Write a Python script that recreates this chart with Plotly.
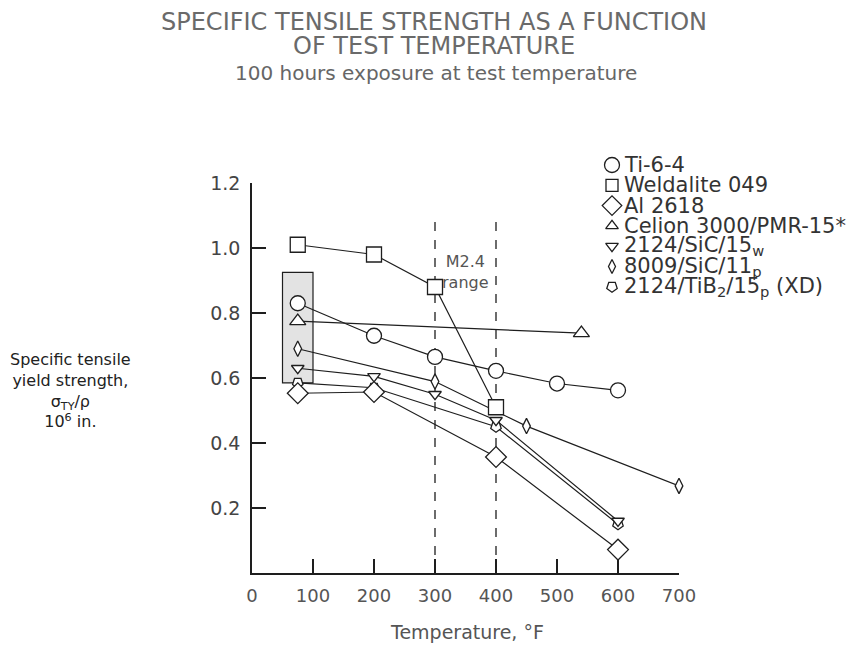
import plotly.graph_objects as go

# ---------------- data ----------------
ti_T = [75, 200, 300, 400, 500, 600]
ti_v = [0.83, 0.73, 0.665, 0.622, 0.583, 0.562]

wel_T = [75, 200, 300, 400]
wel_v = [1.01, 0.98, 0.88, 0.51]

al_T = [75, 200, 400, 600]
al_v = [0.553, 0.557, 0.357, 0.072]

cel_T = [75, 540]
cel_v = [0.775, 0.738]

sicw_T = [75, 200, 300, 400, 600]
sicw_v = [0.63, 0.605, 0.55, 0.47, 0.16]

sic8_T = [75, 300, 450, 700]
sic8_v = [0.69, 0.589, 0.452, 0.268]

tib_T = [75, 200, 400, 600]
tib_v = [0.585, 0.57, 0.45, 0.15]

# room-temperature scatter band and the M2.4 temperature range
room_T = [50, 100]
room_v = [0.585, 0.925]
m24_T = [300, 400]
m24_top = 1.08

x_ticks = [0, 100, 200, 300, 400, 500, 600, 700]
y_ticks = [0.2, 0.4, 0.6, 0.8, 1.0, 1.2]
y_ticktext = ["0.2", "0.4", "0.6", "0.8", "1.0", "1.2"]

names = ["Ti-6-4", "Weldalite 049", "Al 2618", "Celion 3000/PMR-15*",
         "2124/SiC/15<sub>w</sub>", "8009/SiC/11<sub>p</sub>",
         "2124/TiB<sub>2</sub>/15<sub>p</sub> (XD)"]

title_1 = "SPECIFIC TENSILE STRENGTH AS A FUNCTION"
title_2 = "OF TEST TEMPERATURE"
subtitle = "100 hours exposure at test temperature"
x_title = "Temperature, °F"
y_title = "Specific tensile<br>yield strength,<br>σ<sub>TY</sub>/ρ<br>10<sup>6</sup> in."
m24_label = "M2.4<br>range"

FONT = "DejaVu Sans"
INK = "#1e1e1e"
W, H = 866, 647
PLOT_L, PLOT_R, PLOT_T, PLOT_B = 252, 679, 183, 573

series = [
    (tib_T, tib_v, dict(symbol="pentagon", angle=180, size=11)),
    (sic8_T, sic8_v, dict(symbol="diamond-tall", size=11)),
    (sicw_T, sicw_v, dict(symbol="triangle-down", size=11)),
    (cel_T, cel_v, dict(symbol="triangle-up", size=14)),
    (al_T, al_v, dict(symbol="diamond", size=16)),
    (wel_T, wel_v, dict(symbol="square", size=15)),
    (ti_T, ti_v, dict(symbol="circle", size=15)),
]

legend_styles = [
    dict(symbol="circle", size=15),
    dict(symbol="square", size=12),
    dict(symbol="diamond", size=15),
    dict(symbol="triangle-up", size=11),
    dict(symbol="triangle-down", size=11),
    dict(symbol="diamond-tall", size=10),
    dict(symbol="pentagon", angle=180, size=11),
]

fig = go.Figure()

# shaded room temperature band
fig.add_shape(type="rect", xref="x", yref="y",
              x0=room_T[0], x1=room_T[1], y0=room_v[0], y1=room_v[1],
              fillcolor="#e3e3e3", line=dict(color=INK, width=1.2), layer="below")

# M2.4 range dashed verticals
for t in m24_T:
    fig.add_shape(type="line", xref="x", yref="y", x0=t, x1=t, y0=0, y1=m24_top,
                  line=dict(color=INK, width=1.3, dash="dash"), layer="below")

for T, v, m in series:
    mk = dict(color="white", line=dict(color=INK, width=1.3))
    mk.update(m)
    fig.add_trace(go.Scatter(x=T, y=v, mode="lines+markers",
                             line=dict(color=INK, width=1.2),
                             marker=mk, cliponaxis=False, showlegend=False,
                             hoverinfo="skip"))

# manual legend on a page-pixel overlay axis (x2/y2 span the whole figure)
leg_x = 612
leg_y0 = 165
leg_dy = 20.3
leg_y = [leg_y0 + i * leg_dy for i in range(len(names))]
for i, st in enumerate(legend_styles):
    mk = dict(color="white", line=dict(color=INK, width=1.3))
    mk.update(st)
    fig.add_trace(go.Scatter(x=[leg_x], y=[leg_y[i]], xaxis="x2", yaxis="y2",
                             mode="markers", marker=mk, cliponaxis=False,
                             showlegend=False, hoverinfo="skip"))
    fig.add_annotation(x=leg_x + 10, y=leg_y[i], xref="x2", yref="y2",
                       text=names[i], showarrow=False, xanchor="left",
                       yanchor="middle", font=dict(family=FONT, size=21, color="#333"))

fig.add_annotation(x=434, y=22, xref="x2", yref="y2", text=title_1, showarrow=False,
                   font=dict(family=FONT, size=24, color="#6a6a6a"))
fig.add_annotation(x=434, y=46, xref="x2", yref="y2", text=title_2, showarrow=False,
                   font=dict(family=FONT, size=24, color="#6a6a6a"))
fig.add_annotation(x=436, y=73, xref="x2", yref="y2", text=subtitle, showarrow=False,
                   font=dict(family=FONT, size=20, color="#666"))
fig.add_annotation(x=467, y=632, xref="x2", yref="y2", text=x_title, showarrow=False,
                   font=dict(family=FONT, size=19, color="#555"))
fig.add_annotation(x=70, y=390, xref="x2", yref="y2", text=y_title, showarrow=False,
                   align="center", font=dict(family=FONT, size=16, color="#222"))
fig.add_annotation(x=(m24_T[0] + m24_T[1]) / 2, y=0.925, xref="x", yref="y",
                   text=m24_label, showarrow=False, align="center",
                   font=dict(family=FONT, size=16, color="#555"))

axis_common = dict(showgrid=False, zeroline=False, showline=True, linecolor=INK,
                   linewidth=1.5, ticks="inside", ticklen=14, tickwidth=1.5,
                   tickcolor=INK)

fig.update_layout(
    width=W, height=H,
    margin=dict(l=0, r=0, t=0, b=0, autoexpand=False),
    paper_bgcolor="white", plot_bgcolor="rgba(0,0,0,0)",
    font=dict(family=FONT, color="#444"),
    xaxis=dict(range=[0, 700], tickvals=x_ticks,
               domain=[PLOT_L / W, PLOT_R / W], automargin=False,
               tickfont=dict(family=FONT, size=18, color="#555"),
               ticklabelstandoff=6, **axis_common),
    yaxis=dict(range=[0, 1.2], tickvals=y_ticks, ticktext=y_ticktext,
               domain=[(H - PLOT_B) / H, (H - PLOT_T) / H], automargin=False,
               tickfont=dict(family=FONT, size=19, color="#444"),
               ticklabelstandoff=6, **axis_common),
    xaxis2=dict(range=[0, W], domain=[0, 1], anchor="y2", visible=False,
                fixedrange=True, automargin=False),
    yaxis2=dict(range=[H, 0], domain=[0, 1], anchor="x2", visible=False,
                fixedrange=True, automargin=False),
    showlegend=False,
)

fig.write_html("out.html")
